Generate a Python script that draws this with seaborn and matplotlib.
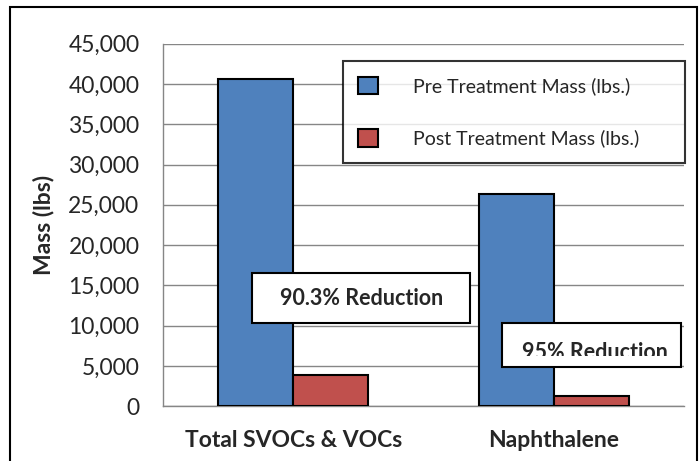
import pandas as pd
import matplotlib.pyplot as plt
import seaborn as sns
from matplotlib.patches import Rectangle
from matplotlib.ticker import FuncFormatter, FixedLocator

categories = ['Total SVOCs & VOCs', 'Naphthalene']
pre_mass = [40600, 26400]
post_mass = [3900, 1300]
series = ['Pre Treatment Mass (lbs.)', 'Post Treatment Mass (lbs.)']
reductions = ['90.3% Reduction', '95% Reduction']

df = pd.DataFrame({
    'Category': categories * 2,
    'Mass': pre_mass + post_mass,
    'Series': [series[0]] * 2 + [series[1]] * 2,
})

sns.set_style('white')
plt.rcParams['font.family'] = ['Lato', 'DejaVu Sans']

fig = plt.figure(figsize=(7, 4.61), dpi=100)
ax = fig.add_axes([0.233, 0.119, 0.744, 0.786])

sns.barplot(data=df, x='Category', y='Mass', hue='Series',
            palette=['#4F81BD', '#C0504D'], saturation=1, width=0.576,
            edgecolor='black', linewidth=1.5, ax=ax, zorder=3)

ax.set_ylim(0, 45000)
ax.set_xlim(-0.5, 1.5)
ax.set_yticks(range(0, 45001, 5000))
ax.yaxis.set_major_formatter(FuncFormatter(lambda v, p: f'{int(v):,}'))
ax.yaxis.grid(True, color='#868686', linewidth=1, zorder=0)
ax.tick_params(axis='y', labelsize=16.5, length=6, color='#868686', width=1, pad=11)
ax.tick_params(axis='x', which='major', labelsize=16.5, length=0, pad=17)
ax.xaxis.set_minor_locator(FixedLocator([-0.5, 0.5, 1.5]))
ax.tick_params(axis='x', which='minor', length=6, color='#868686', width=1)
for lbl in ax.get_xticklabels():
    lbl.set_fontweight('bold')
ax.set_xlabel('')
ax.set_ylabel('Mass (lbs)', fontsize=16.5, fontweight='bold', labelpad=10)

for side in ['top', 'right']:
    ax.spines[side].set_visible(False)
for side in ['left', 'bottom']:
    ax.spines[side].set_color('#868686')
    ax.spines[side].set_linewidth(1)

leg = ax.legend(loc='upper left', bbox_to_anchor=(0.345, 0.669, 0.657, 0.283),
                mode='expand', fontsize=14,
                frameon=True, fancybox=False, edgecolor='black',
                handlelength=1.0, handleheight=1.0, handletextpad=1.8,
                labelspacing=1.75, borderpad=0.8, borderaxespad=0)
leg.get_frame().set_linewidth(1.5)
leg.set_zorder(5)

# annotation boxes
ax.add_patch(Rectangle((-0.157, 10300), 0.837, 6200, facecolor='white',
                       edgecolor='black', linewidth=1.5, zorder=6))
ax.text(0.262, 13400, reductions[0], ha='center', va='center', fontsize=15.5,
        fontweight='bold', zorder=7)

# second box: label text is cut off at the bottom, as in the original
ax.add_patch(Rectangle((0.80, 4850), 0.69, 5450, facecolor='white',
                       edgecolor='none', zorder=6, clip_on=False))
ax.text(1.16, 5900, reductions[1], ha='center', va='baseline', fontsize=15.5,
        fontweight='bold', zorder=7)
ax.add_patch(Rectangle((0.80, 4850), 0.69, 1350, facecolor='white',
                       edgecolor='none', zorder=7.5, clip_on=False))
ax.add_patch(Rectangle((0.80, 4850), 0.69, 5450, fill=False,
                       edgecolor='black', linewidth=1.5, zorder=8, clip_on=False))

# outer chart border
fig.patches.append(Rectangle((10 / 700, -0.05), 687 / 700, 1.05 - 7 / 461,
                             transform=fig.transFigure, fill=False,
                             edgecolor='black', linewidth=1.5))

fig.savefig('out.png', dpi=100)
